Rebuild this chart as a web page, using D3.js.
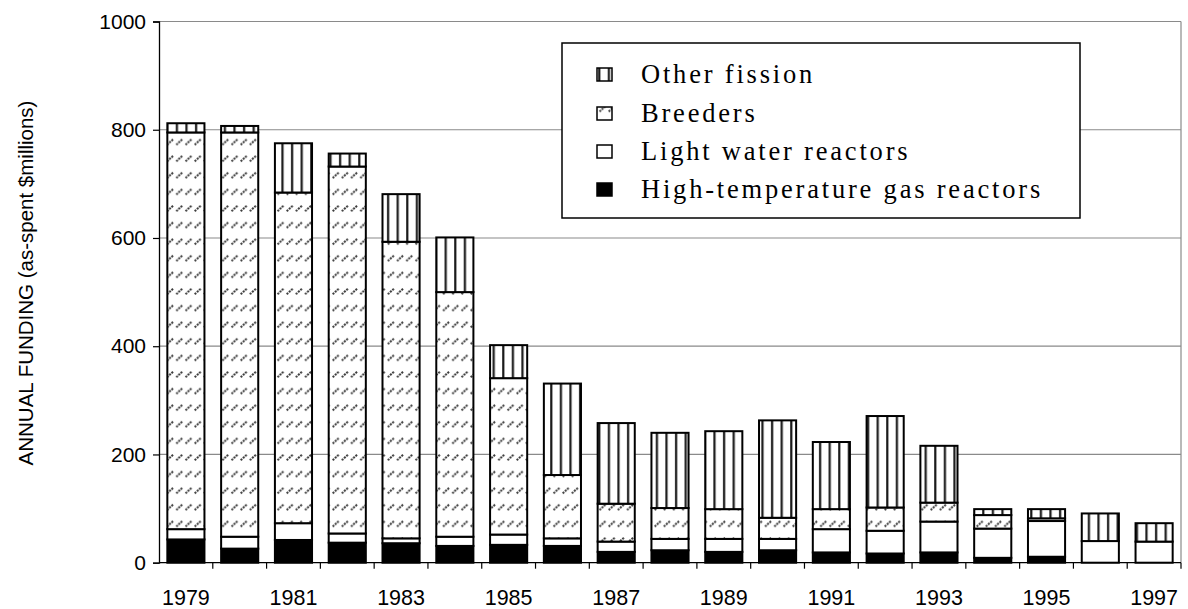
<!DOCTYPE html>
<html>
<head>
<meta charset="utf-8">
<script src="https://cdn.jsdelivr.net/npm/d3@7"></script>
<style>
  html, body { margin: 0; padding: 0; background: #fff; }
  svg { display: block; }
</style>
</head>
<body>
<svg id="chart" width="1188" height="609"></svg>
<script>
// Annual DOE fission R&D funding, as-spent $millions
const years = ["1979","1980","1981","1982","1983","1984","1985","1986","1987","1988",
               "1989","1990","1991","1992","1993","1994","1995","1996","1997"];
const htgr     = [43, 26, 42, 37, 36, 31, 33, 31, 20, 23, 20, 23, 19, 17, 19,  9, 11,  0,  0];
const lwr      = [19, 22, 31, 17,  9, 17, 19, 14, 19, 21, 24, 21, 43, 42, 57, 54, 66, 40, 39];
const breeders = [733,747,611,678,548,452,289,117, 70, 57, 55, 39, 37, 43, 35, 25,  5,  0,  0];
const other    = [17, 12, 91, 24, 88,101, 61,169,149,139,144,180,124,169,105, 11, 17, 51, 34];
const yTicks   = [0, 200, 400, 600, 800, 1000];
const xLabels  = ["1979","1981","1983","1985","1987","1989","1991","1993","1995","1997"];

const seriesKeys = ["htgr", "lwr", "breeders", "other"];
const legendItems = [
  { key: "other",    label: "Other fission" },
  { key: "breeders", label: "Breeders" },
  { key: "lwr",      label: "Light water reactors" },
  { key: "htgr",     label: "High-temperature gas reactors" }
];

const rows = years.map((yr, i) => ({
  year: yr, htgr: htgr[i], lwr: lwr[i], breeders: breeders[i], other: other[i]
}));

const svg = d3.select("#chart");
const plot = { left: 159, right: 1181, top: 21.5, bottom: 562.7 };

// Fill patterns
const defs = svg.append("defs");
const pOther = defs.append("pattern").attr("id", "pat-other")
  .attr("patternUnits", "userSpaceOnUse").attr("width", 9.6).attr("height", 10);
pOther.append("rect").attr("width", 9.6).attr("height", 10).attr("fill", "#fff");
pOther.append("rect").attr("x", 3).attr("y", 0).attr("width", 2.2).attr("height", 10).attr("fill", "#1a1a1a");

const pBreed = defs.append("pattern").attr("id", "pat-breeders")
  .attr("patternUnits", "userSpaceOnUse").attr("width", 9.2).attr("height", 16.6);
pBreed.append("rect").attr("width", 9.2).attr("height", 16.6).attr("fill", "#fff");
pBreed.append("line").attr("x1", 1.5).attr("y1", 12).attr("x2", 7.5).attr("y2", 6.5)
  .attr("stroke", "#3a3a3a").attr("stroke-width", 2).attr("stroke-dasharray", "2 1");

const fills = {
  htgr: "#000",
  lwr: "#fff",
  breeders: "url(#pat-breeders)",
  other: "url(#pat-other)"
};

// Scales
const x = d3.scaleBand().domain(years).range([plot.left, plot.right])
  .paddingInner(0.31).paddingOuter(0.155);
const y = d3.scaleLinear().domain([0, 1000]).range([plot.bottom, plot.top]);

// Gridlines and plot frame
const grid = svg.append("g").attr("stroke", "#8a8a8a").attr("stroke-width", 1.2);
grid.selectAll("line.h").data(yTicks.filter(d => d > 0)).join("line")
  .attr("x1", plot.left).attr("x2", plot.right)
  .attr("y1", d => y(d)).attr("y2", d => y(d));
grid.append("line").attr("x1", plot.right).attr("x2", plot.right)
  .attr("y1", y(1000)).attr("y2", plot.bottom);

// Stacked bars
const stacked = d3.stack().keys(seriesKeys)(rows);
const bars = svg.append("g");
stacked.forEach(layer => {
  bars.append("g").selectAll("rect")
    .data(layer.filter(d => d[1] - d[0] > 0))
    .join("rect")
    .attr("x", d => x(d.data.year))
    .attr("width", x.bandwidth())
    .attr("y", d => y(d[1]))
    .attr("height", d => y(d[0]) - y(d[1]))
    .attr("fill", fills[layer.key])
    .attr("stroke", "#000")
    .attr("stroke-width", 2);
});

// Y axis
const yAxis = svg.append("g").attr("transform", `translate(${plot.left},0)`)
  .call(d3.axisLeft(y).tickValues(yTicks).tickSize(6).tickPadding(7).tickFormat(d3.format("d")));
yAxis.select(".domain").attr("stroke", "#000").attr("stroke-width", 1.3);
yAxis.selectAll(".tick line").attr("stroke", "#000").attr("stroke-width", 1.2);
yAxis.selectAll(".tick text").attr("font-family", "Liberation Sans, Arial, sans-serif")
  .attr("font-size", 21).attr("fill", "#000");

// X axis: baseline, boundary ticks between categories, labels on alternate years
const step = x.step();
const gap = step - x.bandwidth();
svg.append("line").attr("x1", plot.left).attr("x2", plot.right)
  .attr("y1", plot.bottom).attr("y2", plot.bottom)
  .attr("stroke", "#000").attr("stroke-width", 1.3);
svg.append("g").selectAll("line").data(years).join("line")
  .attr("x1", d => x(d) + x.bandwidth() + gap / 2)
  .attr("x2", d => x(d) + x.bandwidth() + gap / 2)
  .attr("y1", plot.bottom).attr("y2", plot.bottom + 6)
  .attr("stroke", "#000").attr("stroke-width", 1.2);
svg.append("g").selectAll("text").data(xLabels).join("text")
  .attr("x", d => x(d) + x.bandwidth() / 2)
  .attr("y", 605)
  .attr("text-anchor", "middle")
  .attr("font-family", "Liberation Sans, Arial, sans-serif")
  .attr("font-size", 21.5)
  .text(d => d);

// Y axis title
svg.append("text")
  .attr("transform", "translate(33,283) rotate(-90)")
  .attr("text-anchor", "middle")
  .attr("font-family", "Liberation Sans, Arial, sans-serif")
  .attr("font-size", 20.5)
  .text("ANNUAL FUNDING (as-spent $millions)");

// Legend
const legend = svg.append("g");
legend.append("rect").attr("x", 562).attr("y", 43).attr("width", 518).attr("height", 175)
  .attr("fill", "#fff").attr("stroke", "#000").attr("stroke-width", 1.5);
const baselines = [83, 122, 160, 198];
legendItems.forEach((it, i) => {
  const b = baselines[i];
  legend.append("rect").attr("x", 597).attr("y", b - 15).attr("width", 15).attr("height", 13)
    .attr("fill", fills[it.key]).attr("stroke", "#000").attr("stroke-width", 1.5);
  legend.append("text").attr("x", 641).attr("y", b)
    .attr("font-family", "Liberation Serif, Times New Roman, serif")
    .attr("font-size", 26.5).attr("letter-spacing", 2.8)
    .text(it.label);
});
</script>
</body>
</html>
